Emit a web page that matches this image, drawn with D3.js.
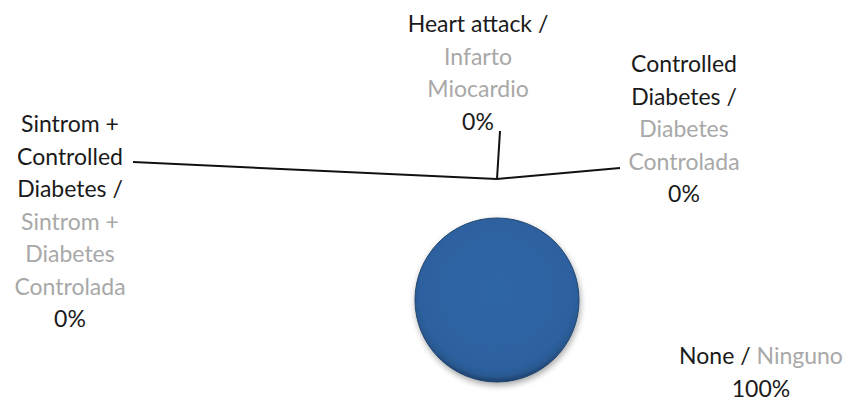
<!DOCTYPE html>
<html>
<head>
	<meta charset="utf-8">
	<title>Complications pie</title>
	<style>
		body { margin: 0; background: #fff; }
		svg { display: block; }
		text { font-family: Lato, "Open Sans", sans-serif; font-size: 23px; }
		.en { fill: #1a1a1a; }
		.es { fill: #a8a8a8; }
		.leader { stroke: #111; stroke-width: 2; fill: none; }
	</style>
</head>
<body>
	<div id="drawing"></div>

	<script src="https://cdnjs.cloudflare.com/ajax/libs/d3/7.8.5/d3.min.js"></script>
	<script>
	// Data
	var categoriesEn = ["None /", "Heart attack /", "Controlled Diabetes /", "Sintrom + Controlled Diabetes /"]
	var categoriesEs = ["Ninguno", "Infarto Miocardio", "Diabetes Controlada", "Sintrom + Diabetes Controlada"]
	var values = [100, 0, 0, 0]
	var percentLabels = ["100%", "0%", "0%", "0%"]

	// Label lines as shown (English lines, Spanish lines)
	var labelLinesEn = [["None /"], ["Heart attack /"], ["Controlled", "Diabetes /"], ["Sintrom +", "Controlled", "Diabetes /"]]
	var labelLinesEs = [["Ninguno"], ["Infarto", "Miocardio"], ["Diabetes", "Controlada"], ["Sintrom +", "Diabetes", "Controlada"]]

	// Layout
	var width = 854, height = 410,
		cx = 497, cy = 300, radius = 82,
		anchorRadius = 121,
		lineH = 32.5

	// label block centre-x and first baseline; leader end point
	var labelPos = [
		{x: 761, y: 364, end: null},
		{x: 478, y: 32, end: [500, 131]},
		{x: 684, y: 72, end: [620, 168]},
		{x: 70, y: 132, end: [133, 162]}
	]

	var svg = d3.select("#drawing").append("svg")
		.attr("width", width)
		.attr("height", height)

	var defs = svg.append("defs")
	var grad = defs.append("radialGradient").attr("id", "pieGrad")
		.attr("cx", "50%").attr("cy", "45%").attr("r", "55%")
	grad.append("stop").attr("offset", "0%").attr("stop-color", "#2f65a6")
	grad.append("stop").attr("offset", "85%").attr("stop-color", "#2d61a0")
	grad.append("stop").attr("offset", "94%").attr("stop-color", "#295890")
	grad.append("stop").attr("offset", "100%").attr("stop-color", "#1d3f6a")

	var shadow = defs.append("filter").attr("id", "shadow")
		.attr("x", "-20%").attr("y", "-20%").attr("width", "140%").attr("height", "140%")
	shadow.append("feGaussianBlur").attr("in", "SourceAlpha").attr("stdDeviation", 3)
	shadow.append("feOffset").attr("dx", 1).attr("dy", 3).attr("result", "b")
	shadow.append("feComponentTransfer").append("feFuncA").attr("type", "linear").attr("slope", 0.35)
	var merge = shadow.append("feMerge")
	merge.append("feMergeNode")
	merge.append("feMergeNode").attr("in", "SourceGraphic")

	// Pie
	var pie = d3.pie().sort(null)(values)
	var arc = d3.arc().innerRadius(0).outerRadius(radius)

	var g = svg.append("g").attr("transform", "translate(" + cx + "," + cy + ")")
	g.selectAll("path.slice")
		.data(pie.filter(function(d){ return d.value > 0 }))
		.enter().append("path")
		.attr("class", "slice")
		.attr("d", arc)
		.attr("fill", "url(#pieGrad)")
		.attr("stroke", "#21456f")
		.attr("stroke-width", 1)
		.attr("filter", "url(#shadow)")

	// Leader lines for the zero slices
	pie.forEach(function(d, i){
		var p = labelPos[i]
		if(!p.end) return
		var a = d3.pointRadial((d.startAngle + d.endAngle)/2, anchorRadius)
		svg.append("line").attr("class", "leader")
			.attr("x1", cx + a[0]).attr("y1", cy + a[1])
			.attr("x2", p.end[0]).attr("y2", p.end[1])
	})

	// Labels
	categoriesEn.forEach(function(c, i){
		var p = labelPos[i]
		var t = svg.append("text").attr("text-anchor", "middle")
		if(i === 0){
			t.attr("x", p.x).attr("y", p.y)
			t.append("tspan").attr("class", "en").text(labelLinesEn[i][0] + " ")
			t.append("tspan").attr("class", "es").text(labelLinesEs[i][0])
			svg.append("text").attr("class", "en").attr("text-anchor", "middle")
				.attr("x", p.x).attr("y", p.y + lineH).text(percentLabels[i])
			return
		}
		var lines = labelLinesEn[i].map(function(s){ return {s: s, c: "en"} })
			.concat(labelLinesEs[i].map(function(s){ return {s: s, c: "es"} }))
			.concat([{s: percentLabels[i], c: "en"}])
		lines.forEach(function(l, k){
			t.append("tspan").attr("class", l.c)
				.attr("x", p.x).attr("y", p.y + k*lineH).text(l.s)
		})
	})
	</script>
</body>
</html>
